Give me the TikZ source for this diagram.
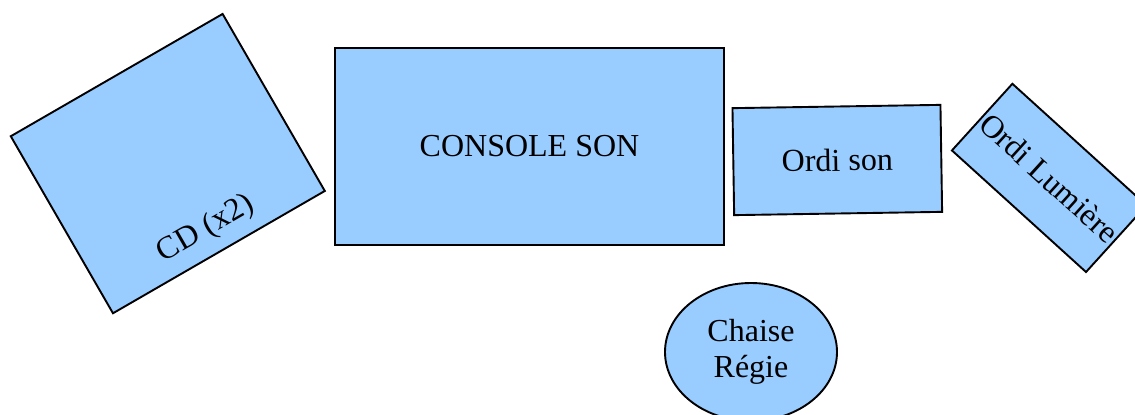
\documentclass[tikz,border=0pt]{standalone}
\usepackage{fontspec}
\setmainfont{Liberation Serif}
\usetikzlibrary{shapes.geometric,calc}
\definecolor{bleu}{HTML}{99CCFF}

\begin{document}
\begin{tikzpicture}[x=0.5pt, y=0.5pt, font=\fontsize{16}{18}\selectfont,
  meuble/.style={draw, fill=bleu, line width=0.95pt, inner sep=0pt}]
\useasboundingbox (0,0) rectangle (1135,414);
\clip (0,0) rectangle (1135,414);

\node [meuble, rotate=30, minimum width=122.3pt, minimum height=102.2pt] (cd) at (167.8,250.4) {};
\node [rotate=30] (cdtexte) at ($(cd.south)!0.132!(cd.north)$) {CD (x2)};

\node [meuble, minimum width=194.5pt, minimum height=98.7pt] (console) at (529.5,267.6) {CONSOLE SON};
\node [meuble, rotate=0.9, minimum width=104pt, minimum height=53.5pt] (ordison) at (837.3,254) {Ordi son};
\node [meuble, rotate=-42.2, minimum width=90.5pt, minimum height=45pt] (ordilum) at (1049.2,236.1) {Ordi Lumière};

\node [meuble, ellipse, align=center, minimum width=86pt, minimum height=69pt] (chaise) at (751,62) {\raisebox{2pt}{Chaise}\\\raisebox{2pt}{Régie}};
\end{tikzpicture}
\end{document}
